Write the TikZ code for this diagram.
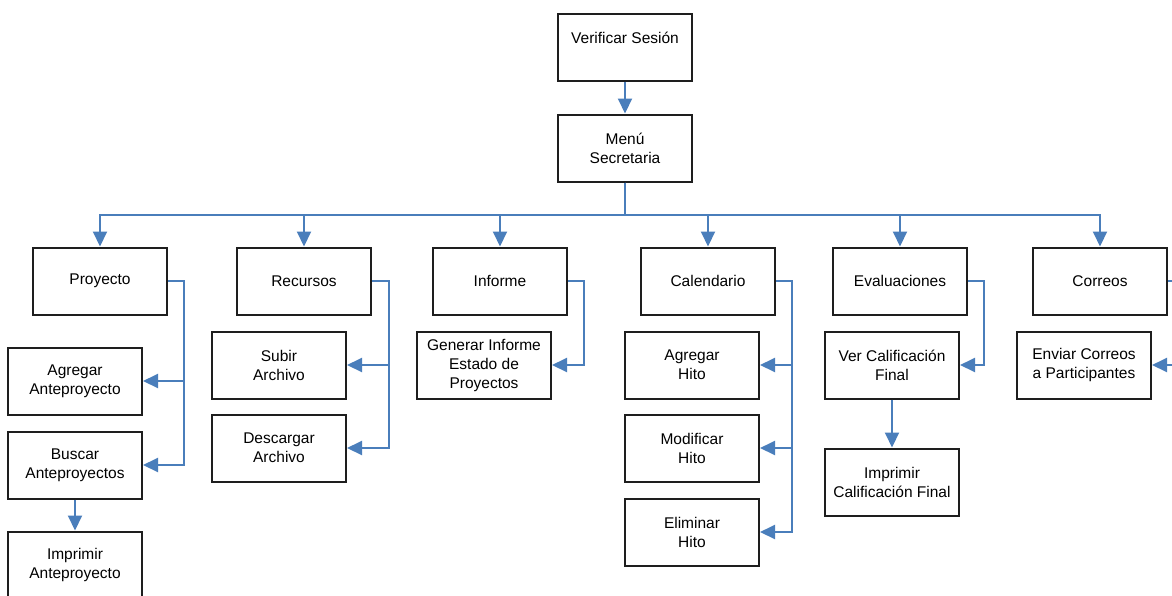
\documentclass[tikz,border=0pt]{standalone}
\usepackage{fontspec}
\setmainfont{Liberation Sans}
\usetikzlibrary{arrows.meta}
\definecolor{linkblue}{HTML}{4A7EBB}
\definecolor{boxline}{HTML}{1E1E1E}
\begin{document}
\begin{tikzpicture}[x=1pt,y=-1pt,
  box/.style={draw=boxline, line width=2pt, fill=white, minimum width=134pt, minimum height=67pt,
    inner sep=2pt, align=center, font=\fontsize{15.5}{19}\selectfont},
  link/.style={draw=linkblue, line width=2pt},
  arr/.style={link, -{Triangle[length=15pt,width=14pt]}}]
\useasboundingbox (0,0) rectangle (1172,595);
\clip (0,0) rectangle (1172,595);
\fill[white] (0,0) rectangle (1172,595);

% top of the tree
\node[box] (vs) at (625,47) {Verificar Sesión\\ \mbox{}};
\node[box] (menu) at (625,148) {Menú\\Secretaria};

% first level
\node[box] (proy) at (100,281) {Proyecto};
\node[box] (recu) at (304,281) {Recursos};
\node[box] (info) at (500,281) {Informe};
\node[box] (cale) at (708,281) {Calendario};
\node[box] (eval) at (900,281) {Evaluaciones};
\node[box] (corr) at (1100,281) {Correos};

% second level
\node[box] (agreg) at (75,381) {Agregar\\Anteproyecto};
\node[box] (busc) at (75,465) {Buscar\\Anteproyectos};
\node[box] (impa) at (75,565) {Imprimir\\Anteproyecto};
\node[box] (subir) at (279,365) {Subir\\Archivo};
\node[box] (desc) at (279,448) {Descargar\\Archivo};
\node[box] (gen) at (484,365) {Generar Informe\\Estado de\\Proyectos};
\node[box] (agh) at (692,365) {Agregar\\Hito};
\node[box] (modh) at (692,448) {Modificar\\Hito};
\node[box] (elh) at (692,532) {Eliminar\\Hito};
\node[box] (ver) at (892,365) {Ver Calificación\\Final};
\node[box] (impc) at (892,482) {Imprimir\\Calificación Final};
\node[box] (env) at (1084,365) {Enviar Correos\\a Participantes};

% connectors
\draw[arr] (vs) -- (menu);
\foreach \n in {proy,recu,info,cale,eval,corr}
  \draw[arr] (menu.south) -- ++(0,32) -| (\n.north);

\draw[arr] (proy.east) -- ++(16,0) |- (agreg.east);
\draw[arr] (proy.east) -- ++(16,0) |- (busc.east);
\draw[arr] (busc) -- (impa);

\draw[arr] (recu.east) -- ++(17,0) |- (subir.east);
\draw[arr] (recu.east) -- ++(17,0) |- (desc.east);

\draw[arr] (info.east) -- ++(16,0) |- (gen.east);

\draw[arr] (cale.east) -- ++(16,0) |- (agh.east);
\draw[arr] (cale.east) -- ++(16,0) |- (modh.east);
\draw[arr] (cale.east) -- ++(16,0) |- (elh.east);

\draw[arr] (eval.east) -- ++(16,0) |- (ver.east);
\draw[arr] (ver) -- (impc);

\draw[arr] (corr.east) -- ++(16,0) |- (env.east);
\end{tikzpicture}
\end{document}
